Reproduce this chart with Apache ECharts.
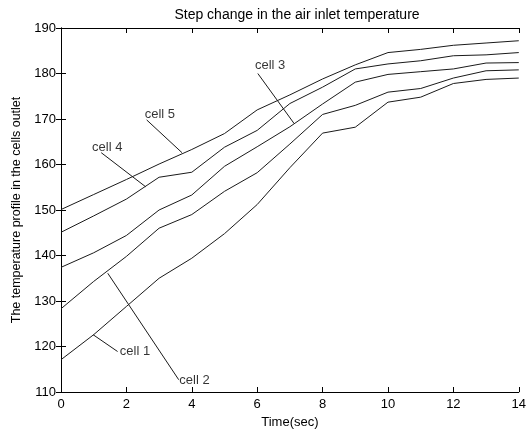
<!DOCTYPE html>
<html>
<head>
<meta charset="utf-8">
<script src="https://cdn.jsdelivr.net/npm/echarts@6/dist/echarts.min.js"></script>
<style>
html,body{margin:0;padding:0;background:#fff;}
#chart{width:529px;height:434px;}
</style>
</head>
<body>
<div id="chart"></div>
<script>
// ---- data ----
const timeSec = [0,1,2,3,4,5,6,7,8,9,10,11,12,13,14];
const cell1 = [117.1,122.6,128.8,135.0,139.4,144.8,151.2,159.3,166.9,168.2,173.7,174.8,177.8,178.7,179.0];
const cell2 = [128.3,134.3,139.8,146.0,149.0,154.1,158.2,164.5,171.0,173.0,175.9,176.7,179.0,180.6,180.8];
const cell3 = [137.4,140.6,144.4,150.0,153.3,159.6,163.9,168.3,173.3,178.1,179.8,180.4,181.0,182.3,182.4];
const cell4 = [145.1,148.7,152.4,157.2,158.3,163.8,167.5,173.4,177.0,181.0,182.1,182.8,183.9,184.1,184.6];
const cell5 = [150.1,153.4,156.7,160.1,163.3,166.8,172.0,175.3,178.8,181.9,184.6,185.3,186.2,186.7,187.2];
const xTicks = [0,2,4,6,8,10,12,14];
const yTicks = [110,120,130,140,150,160,170,180,190];
// annotation labels: text anchor (left-middle) and leader line [from, to] in data units
const annoNames = ['cell 1','cell 2','cell 3','cell 4','cell 5'];
const annoText = [[1.80,119.0],[3.62,112.5],[5.93,181.7],[0.95,163.8],[2.56,171.1]];
const annoLeaderFrom = [[1.73,118.9],[3.60,112.7],[6.02,180.0],[1.23,162.6],[2.62,169.8]];
const annoLeaderTo = [[0.98,122.6],[1.43,136.1],[7.13,169.0],[2.59,155.1],[3.70,162.6]];

const cells = [cell1,cell2,cell3,cell4,cell5];
const FONT = 'Liberation Sans, Arial, sans-serif';
const LINE = '#1a1a1a';

const series = [];
cells.forEach((c,i)=>{
  series.push({
    type:'line', name:'cell '+(i+1), silent:true, showSymbol:false, symbol:'none',
    data: timeSec.map((t,k)=>[t,c[k]]),
    lineStyle:{color:LINE,width:1}, animation:false
  });
});
annoNames.forEach((n,i)=>{
  series.push({
    type:'line', silent:true, showSymbol:false, symbol:'none',
    data:[annoLeaderFrom[i],annoLeaderTo[i]],
    lineStyle:{color:LINE,width:1}, animation:false
  });
});
series.push({
  type:'scatter', silent:true, symbolSize:0,
  data: annoNames.map((n,i)=>({name:n,value:annoText[i]})),
  label:{show:true,position:'right',distance:0,formatter:'{b}',color:'#000',fontSize:13,fontFamily:FONT},
  animation:false
});

const axisCommon = {
  axisLine:{show:true,lineStyle:{color:'#000',width:1}},
  axisTick:{show:true,inside:true,length:5,lineStyle:{color:'#000'}},
  splitLine:{show:false}
};

const chart = echarts.init(document.getElementById('chart'),null,{renderer:'canvas'});
chart.setOption({
  backgroundColor:'#fff',
  animation:false,
  title:{text:'Step change in the air inlet temperature',left:292,textAlign:'center',top:3,
    textStyle:{fontSize:14,fontWeight:'normal',color:'#000',fontFamily:FONT}},
  grid:{left:61,top:28,width:463,height:364,containLabel:false},
  xAxis:[
    Object.assign({type:'value',position:'bottom',min:xTicks[0],max:xTicks[xTicks.length-1],interval:2,
      name:'Time(sec)',nameLocation:'middle',nameGap:23,
      nameTextStyle:{fontSize:13,color:'#000',fontFamily:FONT},
      axisLabel:{color:'#000',fontSize:13,margin:6,fontFamily:FONT,showMaxLabel:true}},axisCommon),
    Object.assign({type:'value',position:'top',min:xTicks[0],max:xTicks[xTicks.length-1],interval:2,
      axisLabel:{show:false}},axisCommon)
  ],
  yAxis:[
    Object.assign({type:'value',position:'left',min:yTicks[0],max:yTicks[yTicks.length-1],interval:10,
      name:'The temperature profile in the cells outlet',nameLocation:'middle',nameGap:35,
      nameTextStyle:{fontSize:12.5,color:'#000',fontFamily:FONT},
      axisLabel:{color:'#000',fontSize:13,margin:5,fontFamily:FONT}},axisCommon),
    Object.assign({type:'value',position:'right',min:yTicks[0],max:yTicks[yTicks.length-1],interval:10,
      axisLabel:{show:false}},axisCommon)
  ],
  series:series
});
</script>
</body>
</html>
